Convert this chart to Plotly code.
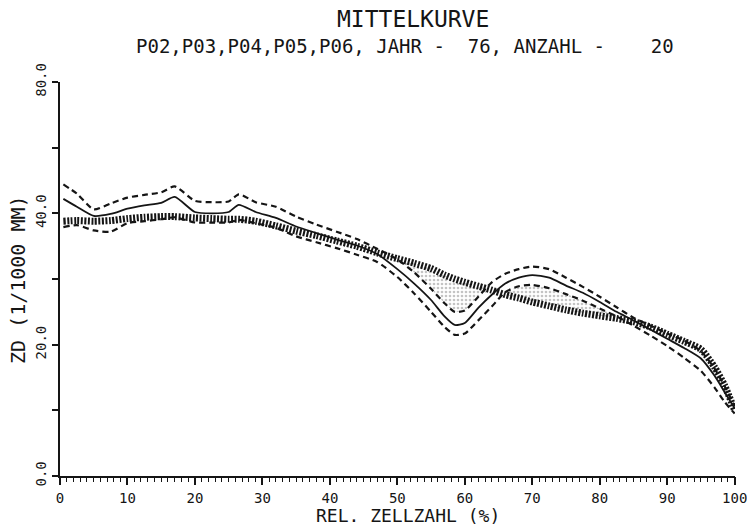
import numpy as np
import plotly.graph_objects as go

# Relative cell number (%)
rel_zellzahl = [0.5, 2.5, 5, 7.5, 10, 12.5, 15, 17, 20, 22.5, 25, 26.5, 29, 32, 35, 38, 41,
                44, 47, 50, 52.5, 55, 57, 58.5, 60, 62, 64, 66, 68, 70, 72.5, 75, 77.5, 80,
                82.5, 85, 87.5, 90, 92.5, 95, 97, 98.5, 100]

# Mean curve of the selected samples (ZD in 1/1000 mm)
mittel = [42.2, 41.0, 39.6, 39.9, 40.7, 41.2, 41.6, 42.5, 40.2, 40.0, 40.2, 41.3, 40.2, 39.3,
          38.0, 37.0, 36.0, 35.1, 33.8, 31.5, 29.3, 26.8, 24.3, 23.0, 23.3, 25.6, 27.6, 29.3,
          30.2, 30.6, 30.2, 29.0, 27.9, 26.5, 25.0, 23.7, 22.3, 20.9, 19.5, 17.9, 15.3, 12.8, 10.3]

# Upper and lower confidence limits
grenze_oben = [44.4, 43.0, 40.6, 41.5, 42.4, 42.8, 43.2, 44.1, 41.9, 41.7, 41.8, 42.9, 41.7,
               41.0, 39.5, 38.3, 37.2, 36.1, 34.6, 33.0, 31.0, 28.5, 26.3, 25.0, 25.2, 27.3,
               29.5, 30.8, 31.5, 31.9, 31.5, 30.2, 28.8, 27.3, 25.7, 24.1, 22.9, 21.7, 20.6,
               19.0, 16.4, 13.7, 10.6]
grenze_unten = [37.9, 38.2, 37.4, 37.2, 38.5, 38.8, 39.1, 39.4, 38.6, 38.6, 38.6, 39.0, 38.5,
                37.8, 36.5, 35.6, 34.7, 33.7, 32.6, 30.3, 27.8, 25.0, 22.7, 21.5, 21.7, 23.7,
                25.8, 28.0, 28.9, 29.1, 28.6, 27.7, 26.7, 25.5, 24.3, 22.9, 21.4, 19.8, 18.0,
                16.0, 13.5, 11.3, 9.5]

# Long-term reference curve
referenz = [38.8, 38.9, 38.8, 38.9, 39.2, 39.4, 39.5, 39.5, 39.3, 39.2, 39.1, 39.1, 38.8, 38.1,
            37.3, 36.6, 35.8, 35.0, 34.0, 33.1, 32.4, 31.6, 30.6, 30.0, 29.5, 28.9, 28.3, 27.6,
            27.1, 26.5, 25.9, 25.3, 24.8, 24.4, 24.0, 23.5, 22.7, 21.6, 20.5, 19.3, 16.6, 13.8, 10.0]

# Axis ticks: a fine comb every 1 %, labelled every 10 %
x_fine_ticks = list(range(0, 101))
x_tick_text = [str(v) if v % 10 == 0 else "" for v in x_fine_ticks]
y_tickvals = [0, 10, 20, 30, 40, 50, 60]
y_ticktext = ["0.0", "", "20.0", "", "40.0", "", "80.0"]

FONT = "DejaVu Sans Mono"
INK = "#151515"

ref = np.array(referenz)
oben = np.array(grenze_oben)
unten = np.array(grenze_unten)

fig = go.Figure()

stipple = dict(shape=".", size=4, solidity=0.35, fgcolor="#8a8a8a", bgcolor="white")
smooth = dict(shape="spline", smoothing=0.6)

# Stippled areas where the reference lies outside the confidence band
fig.add_trace(go.Scatter(x=rel_zellzahl, y=ref, mode="lines", line=dict(width=0, **smooth),
                         hoverinfo="skip", showlegend=False))
fig.add_trace(go.Scatter(x=rel_zellzahl, y=np.minimum(oben, ref), mode="lines",
                         line=dict(width=0, **smooth), fill="tonexty", fillpattern=stipple,
                         fillcolor="rgba(255,255,255,0)", hoverinfo="skip", showlegend=False))
fig.add_trace(go.Scatter(x=rel_zellzahl, y=ref, mode="lines", line=dict(width=0, **smooth),
                         hoverinfo="skip", showlegend=False))
fig.add_trace(go.Scatter(x=rel_zellzahl, y=np.maximum(unten, ref), mode="lines",
                         line=dict(width=0, **smooth), fill="tonexty", fillpattern=stipple,
                         fillcolor="rgba(255,255,255,0)", hoverinfo="skip", showlegend=False))

# Reference curve drawn as a thick hatched band
fig.add_trace(go.Scatter(x=rel_zellzahl, y=referenz, mode="lines",
                         line=dict(color=INK, width=7, dash="2px,1.5px", **smooth),
                         showlegend=False))

# Confidence limits
for band in (grenze_oben, grenze_unten):
    fig.add_trace(go.Scatter(x=rel_zellzahl, y=band, mode="lines",
                             line=dict(color=INK, width=2.2, dash="6px,4px", **smooth),
                             showlegend=False))

# Mean curve
fig.add_trace(go.Scatter(x=rel_zellzahl, y=mittel, mode="lines",
                         line=dict(color=INK, width=1.8, **smooth),
                         showlegend=False))

# Invisible carrier so the long-tick axis is rendered
fig.add_trace(go.Scatter(x=[rel_zellzahl[0]], y=[referenz[0]], xaxis="x2", mode="markers",
                         marker=dict(opacity=0), hoverinfo="skip", showlegend=False))

L, R, T, B = 60, 12, 82, 50
W, H = 747, 526
plot_w = W - L - R
plot_h = H - T - B


def px_to_paper(px, py):
    return (px - L) / plot_w, (H - B - py) / plot_h


def label(text, px, py, size, angle=0):
    x, y = px_to_paper(px, py)
    return dict(text=text, x=x, y=y, xref="paper", yref="paper", xanchor="center",
                yanchor="middle", textangle=angle, showarrow=False,
                font=dict(size=size, family=FONT, color=INK))


fig.update_layout(
    width=W, height=H,
    margin=dict(l=L, r=R, t=T, b=B, autoexpand=False),
    paper_bgcolor="white", plot_bgcolor="white",
    font=dict(family=FONT, color=INK),
    showlegend=False,
    annotations=[
        label("MITTELKURVE", 413, 19, 23),
        label("P02,P03,P04,P05,P06, JAHR -  76, ANZAHL -    20", 405, 46, 19),
        label("REL. ZELLZAHL (%)", 408, 515, 18),
        label("ZD (1/1000 MM)", 18, 280, 20, angle=-90),
    ],
    xaxis2=dict(
        overlaying="x", anchor="y", side="bottom", range=[0, 100.05],
        tickmode="linear", tick0=0, dtick=10, ticks="outside", ticklen=8, tickwidth=1.6,
        tickcolor=INK, showticklabels=False, showline=False, showgrid=False,
        zeroline=False, automargin=False,
    ),
)

fig.layout.xaxis.update(
    range=[0, 100.05], tickmode="array", tickvals=x_fine_ticks, ticktext=x_tick_text,
    automargin=False, ticks="outside", ticklen=4, tickwidth=1.1, tickcolor=INK,
    showline=True, linecolor=INK, linewidth=2, showgrid=False, zeroline=False,
    ticklabeloverflow="allow", ticklabelstandoff=4,
    tickfont=dict(size=14, family=FONT, color=INK),
)
fig.layout.yaxis.update(
    range=[0, 60], tickvals=y_tickvals, ticktext=y_ticktext, tickangle=-90,
    automargin=False,
    ticks="outside", ticklen=6, tickwidth=1.5, tickcolor=INK,
    showline=True, linecolor=INK, linewidth=2, showgrid=False, zeroline=False,
    tickfont=dict(size=14, family=FONT, color=INK),
)

fig.write_html("out.html")
